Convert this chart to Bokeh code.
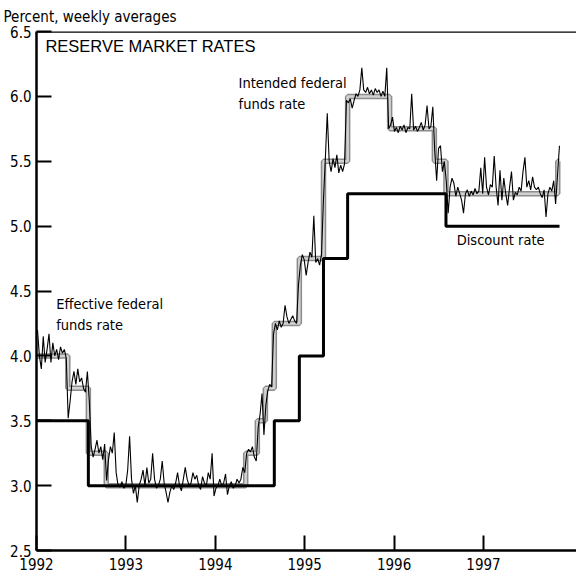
import numpy as np
from bokeh.plotting import figure
from bokeh.models import Span, Label, FixedTicker
from bokeh.embed import file_html
from bokeh.resources import INLINE

# ---------------- data ----------------
y_ticks = [2.5, 3.0, 3.5, 4.0, 4.5, 5.0, 5.5, 6.0, 6.5]
y_labels = ["2.5", "3.0", "3.5", "4.0", "4.5", "5.0", "5.5", "6.0", "6.5"]
x_ticks = [1992, 1993, 1994, 1995, 1996, 1997]
x_labels = ["1992", "1993", "1994", "1995", "1996", "1997"]

discount_dates = [1992.0, 1992.58, 1994.66, 1994.94, 1995.21, 1995.48, 1996.58, 1997.85]
discount_rates = [3.5, 3.0, 3.5, 4.0, 4.75, 5.25, 5.0, 5.0]

intended_dates = [1992.0, 1992.35, 1992.58, 1992.78, 1994.34, 1994.47, 1994.56, 1994.66,
                  1994.94, 1995.21, 1995.48, 1995.95, 1996.45, 1996.58, 1997.83, 1997.85]
intended_rates = [4.0, 3.75, 3.25, 3.0, 3.25, 3.5, 3.75, 4.25,
                  4.75, 5.5, 6.0, 5.75, 5.5, 5.25, 5.5, 5.5]

effective_start = 1992.011
effective_week = 0.021465
effective_rates = [
    4.20, 4.00, 3.90, 4.15, 3.95, 4.05, 4.17, 3.95, 4.10, 4.00,
    4.05, 3.97, 4.07, 4.02, 4.05, 3.98, 3.52, 3.65, 3.80, 3.88,
    3.78, 3.90, 3.80, 3.83, 3.75, 3.72, 3.88, 3.65, 3.30, 3.22,
    3.28, 3.35, 3.25, 3.30, 3.20, 3.32, 3.04, 3.20, 3.30, 3.25,
    3.41, 3.10, 3.00, 2.99, 3.03, 2.98, 3.00, 3.12, 3.38, 3.05,
    2.94, 3.00, 2.87, 3.00, 3.05, 3.12, 3.00, 3.14, 3.02, 3.05,
    3.25, 3.05, 2.98, 3.00, 3.05, 3.19, 3.02, 2.95, 2.87, 2.95,
    3.00, 2.97, 3.02, 3.10, 3.00, 2.96, 3.05, 3.14, 3.05, 3.00,
    3.02, 3.10, 3.05, 3.08, 3.00, 2.97, 3.07, 3.02, 3.00, 3.10,
    3.05, 3.25, 2.92, 2.98, 3.00, 3.05, 3.00, 3.02, 3.09, 2.93,
    3.00, 3.03, 2.98, 3.00, 3.05, 3.02, 3.05, 3.14, 3.10, 3.25,
    3.28, 3.26, 3.30, 3.22, 3.19, 3.45, 3.55, 3.71, 3.39, 3.62,
    3.73, 3.78, 3.76, 4.17, 4.25, 4.20, 4.27, 4.22, 4.25, 4.39,
    4.30, 4.25, 4.28, 4.31, 4.27, 4.25, 4.55, 4.70, 4.78, 4.74,
    4.62, 4.72, 4.80, 4.76, 5.08, 4.72, 4.75, 4.70, 4.78, 5.20,
    5.52, 5.87, 5.50, 5.42, 5.52, 5.45, 5.55, 5.41, 5.47, 5.42,
    5.48, 5.97, 5.95, 5.98, 5.91, 5.97, 6.02, 6.00, 6.05, 6.22,
    6.05, 6.03, 6.07, 6.02, 6.05, 6.01, 6.06, 6.03, 6.05, 6.00,
    6.04, 6.00, 6.22, 5.75, 5.78, 5.84, 5.73, 5.76, 5.72, 5.77,
    5.74, 5.78, 5.72, 5.76, 5.75, 6.02, 5.74, 5.77, 5.73, 5.76,
    5.80, 5.74, 5.78, 5.93, 5.75, 5.77, 5.92, 5.58, 5.35, 5.60,
    5.62, 5.42, 5.50, 5.35, 5.10, 5.30, 5.37, 5.33, 5.23, 5.30,
    5.25, 5.20, 5.10, 5.25, 5.28, 5.23, 5.27, 5.24, 5.29, 5.25,
    5.27, 5.45, 5.25, 5.53, 5.30, 5.24, 5.32, 5.30, 5.54, 5.30,
    5.16, 5.43, 5.20, 5.37, 5.25, 5.16, 5.30, 5.42, 5.20, 5.26,
    5.24, 5.30, 5.27, 5.42, 5.53, 5.30, 5.35, 5.28, 5.38, 5.30,
    5.28, 5.30, 5.25, 5.22, 5.28, 5.07, 5.25, 5.30, 5.27, 5.35,
    5.17, 5.40, 5.62,
]
effective_dates = effective_start + effective_week * np.arange(len(effective_rates))

# ---------------- figure ----------------
NARROW = "'DejaVu Sans Condensed', 'Liberation Sans Narrow', 'Liberation Sans', sans-serif"
REGULAR = "'Liberation Sans', Arial, sans-serif"

p = figure(width=576, height=578, output_backend="svg", toolbar_location=None,
           x_range=(1992.0, 1998.04), y_range=(2.5, 6.5),
           min_border_left=36, min_border_right=0, min_border_top=31, min_border_bottom=28)
p.outline_line_color = None
p.background_fill_color = "white"
p.border_fill_color = "white"
p.xgrid.visible = False
p.ygrid.visible = False

p.title.text = "Percent, weekly averages"
p.title.align = "left"
p.title.offset = -33
p.title.standoff = 11
p.title.text_font = NARROW
p.title.text_font_size = "15px"
p.title.text_font_style = "normal"
p.title.text_color = "black"

for ax in (p.xaxis[0], p.yaxis[0]):
    ax.axis_line_width = 2.5
    ax.axis_line_color = "black"
    ax.major_tick_in = 15
    ax.major_tick_out = 0
    ax.major_tick_line_width = 2
    ax.major_tick_line_color = "black"
    ax.minor_tick_line_color = None
    ax.major_label_text_font = NARROW
    ax.major_label_text_font_size = "15px"
    ax.major_label_text_color = "black"

p.yaxis.ticker = FixedTicker(ticks=y_ticks)
p.yaxis.major_label_overrides = {t: l for t, l in zip(y_ticks, y_labels)}
p.yaxis.major_label_standoff = 5
p.xaxis.ticker = FixedTicker(ticks=x_ticks)
p.xaxis.major_label_overrides = {t: l for t, l in zip(x_ticks, x_labels)}
p.xaxis.major_label_standoff = 7

p.add_layout(Span(location=6.5, dimension="width", line_color="black", line_width=2.5))

# intended federal funds rate (gray band)
p.step(intended_dates, intended_rates, mode="after", line_color="#8c8c8c", line_width=5.5)
p.step(intended_dates, intended_rates, mode="after", line_color="#d2d2d2", line_width=2.5)
# discount rate
p.step(discount_dates, discount_rates, mode="after", line_color="black", line_width=3)
# effective federal funds rate
p.line(effective_dates, effective_rates, line_color="black", line_width=1.1)

# ---------------- texts ----------------
def add_label(x, y, text, font, size):
    p.add_layout(Label(x=x, y=y, text=text, text_font=font, text_font_size=size,
                       text_color="black", text_baseline="alphabetic", text_align="left"))

add_label(1992.10, 6.385, "RESERVE MARKET RATES", REGULAR, "16.5px")
add_label(1994.26, 6.105, "Intended federal", NARROW, "14.5px")
add_label(1994.26, 5.94, "funds rate", NARROW, "14.5px")
add_label(1992.22, 4.40, "Effective federal", NARROW, "14.5px")
add_label(1992.22, 4.235, "funds rate", NARROW, "14.5px")
add_label(1996.70, 4.89, "Discount rate", NARROW, "14.5px")

open("out.html", "w").write(file_html(p, INLINE))
